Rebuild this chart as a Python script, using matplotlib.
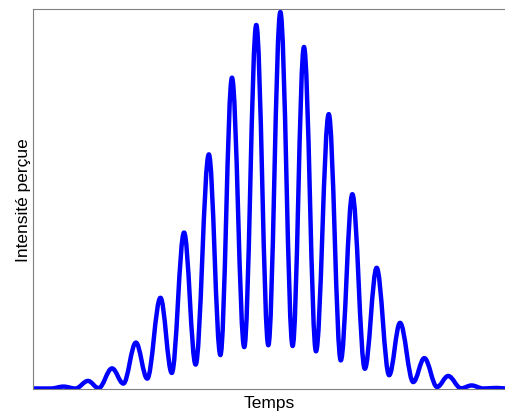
import matplotlib
matplotlib.use('Agg')
import matplotlib.pyplot as plt
from matplotlib.path import Path
from matplotlib.patches import PathPatch

# extrema (time in arbitrary units, intensity 0..1)
start_t = [0.0]
start_v = [0.0]
peak_t = [1.29, 2.33, 3.35, 4.36, 5.40, 6.40, 7.45, 8.43, 9.46, 10.48,
          11.48, 12.53, 13.53, 14.56, 15.55, 16.58, 17.59, 18.58, 19.64]
peak_v = [0.005, 0.020, 0.053, 0.121, 0.239, 0.411, 0.617, 0.819, 0.958, 0.992,
          0.900, 0.723, 0.512, 0.318, 0.173, 0.080, 0.033, 0.008, 0.0015]
trough_t = [0.76, 1.80, 2.78, 3.83, 4.84, 5.88, 6.89, 7.94, 8.95, 9.97,
            11.00, 11.99, 13.04, 14.06, 15.09, 16.11, 17.12, 18.14, 19.08, 20.04]
trough_v = [0.0, 0.0, 0.001, 0.013, 0.026, 0.041, 0.063, 0.088, 0.109, 0.114,
            0.112, 0.098, 0.074, 0.052, 0.035, 0.017, 0.004, 0.0005, 0.0, 0.0]

pts = sorted(zip(start_t + peak_t + trough_t, start_v + peak_v + trough_v))

# smooth curve: cubic bezier between extrema, flat tangents at each extremum
k = 0.3634
verts = [pts[0]]
codes = [Path.MOVETO]
for (x0, y0), (x1, y1) in zip(pts[:-1], pts[1:]):
    dx = x1 - x0
    verts += [(x0 + k*dx, y0), (x1 - k*dx, y1), (x1, y1)]
    codes += [Path.CURVE4]*3

fig = plt.figure(figsize=(5.06, 4.14), dpi=100)
ax = fig.add_axes([33/506, 1 - 389.5/414, 473/506, 379.5/414])

ax.add_patch(PathPatch(Path(verts, codes), fill=False, edgecolor='#0000ff',
                       lw=3.2, joinstyle='round', capstyle='round'))

ax.set_xlim(0, 20.04)
ax.set_ylim(0, 1)
ax.set_xticks([])
ax.set_yticks([])
for s in ax.spines.values():
    s.set_color('#808080')
    s.set_linewidth(0.8)
ax.spines['right'].set_visible(False)

ax.set_xlabel('Temps', fontsize=12.5, family='Liberation Sans', labelpad=4.5)
ax.set_ylabel('Intensité perçue', fontsize=12.5, family='Liberation Sans', labelpad=1.5)

fig.savefig('out.png', dpi=100)
